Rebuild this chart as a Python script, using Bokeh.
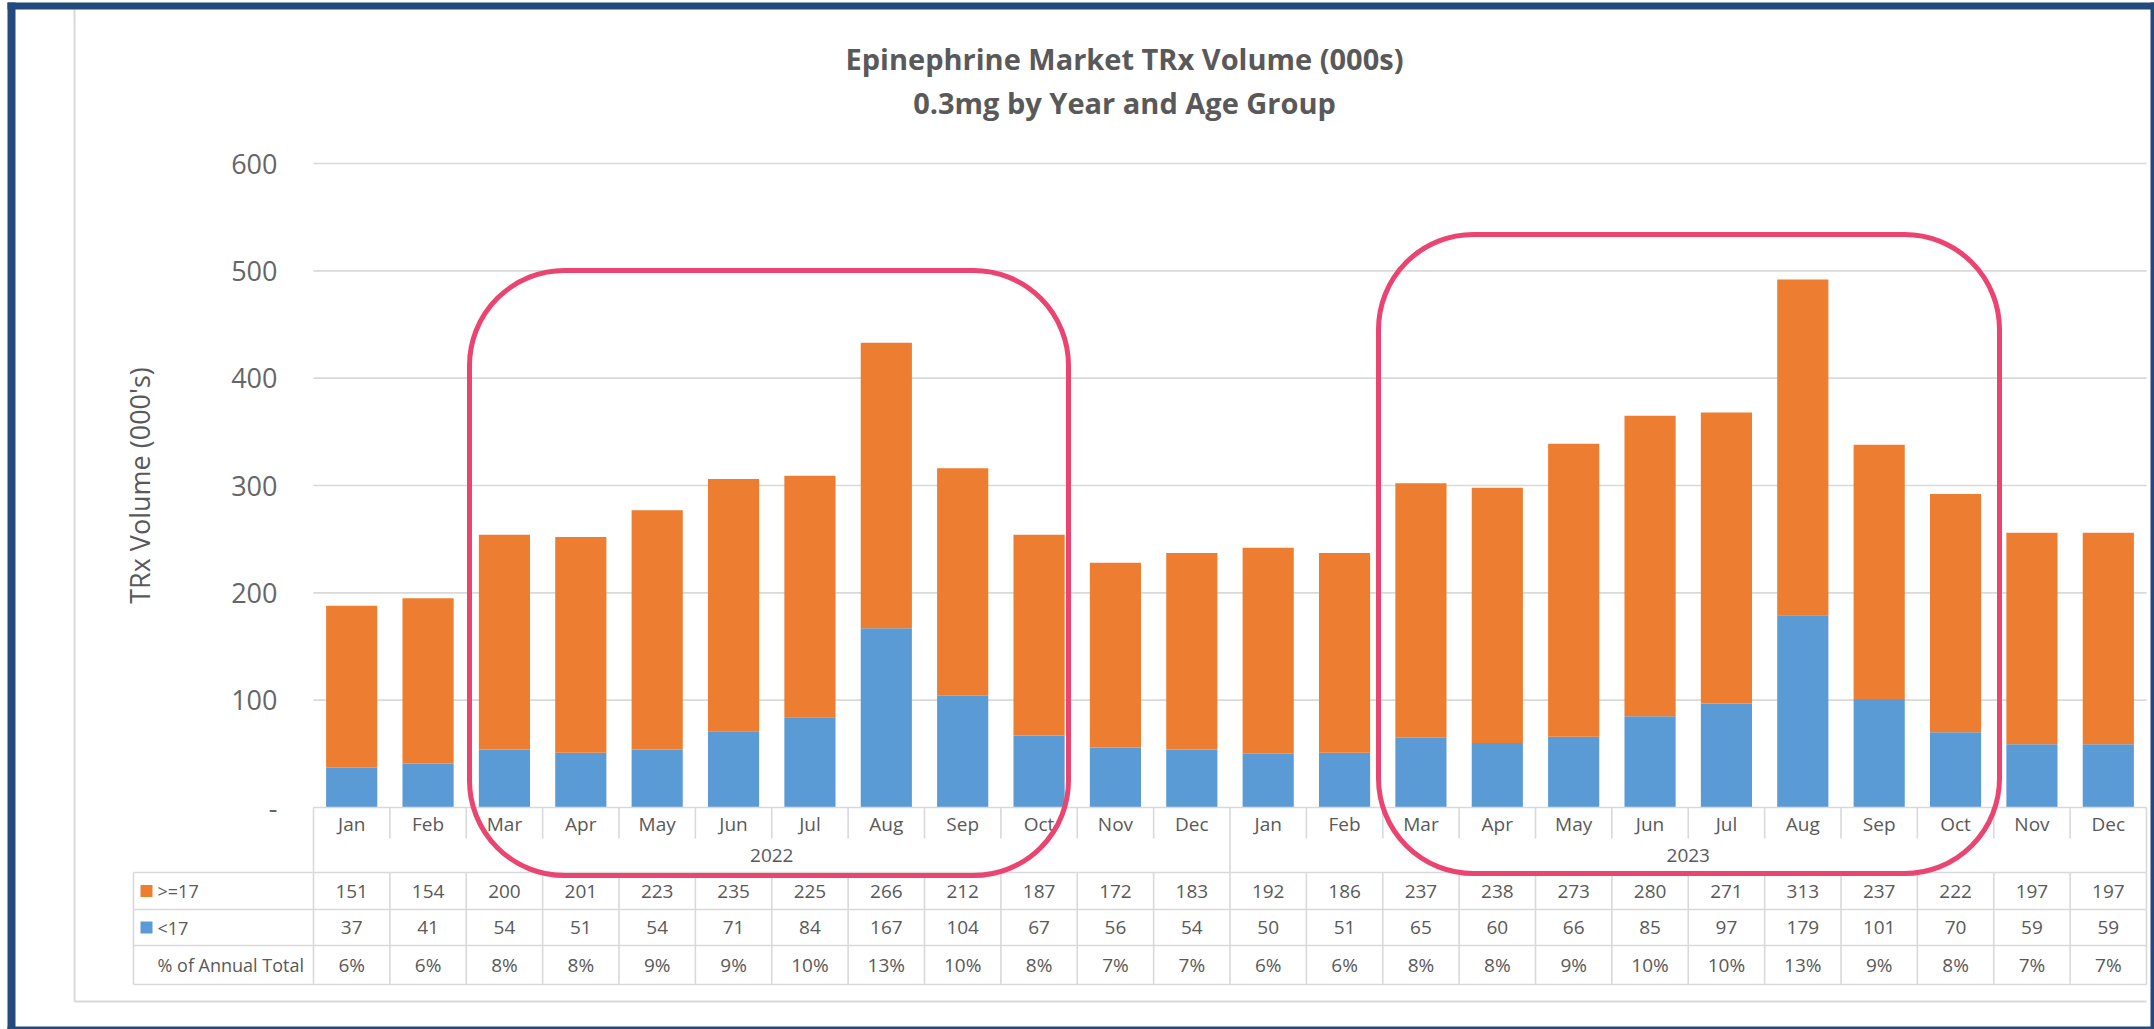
from bokeh.plotting import figure
from bokeh.models import Range1d, LinearAxis, FixedTicker, BoxAnnotation, ColumnDataSource
from bokeh.core.properties import value
from bokeh.embed import file_html
from bokeh.resources import INLINE

# ---------------- data ----------------
months = ["Jan", "Feb", "Mar", "Apr", "May", "Jun", "Jul", "Aug", "Sep", "Oct", "Nov", "Dec",
          "Jan", "Feb", "Mar", "Apr", "May", "Jun", "Jul", "Aug", "Sep", "Oct", "Nov", "Dec"]
years = ["2022", "2023"]
adult = [151, 154, 200, 201, 223, 235, 225, 266, 212, 187, 172, 183,
         192, 186, 237, 238, 273, 280, 271, 313, 237, 222, 197, 197]   # >=17
child = [37, 41, 54, 51, 54, 71, 84, 167, 104, 67, 56, 54,
         50, 51, 65, 60, 66, 85, 97, 179, 101, 70, 59, 59]             # <17
pct = ["6%", "6%", "8%", "8%", "9%", "9%", "10%", "13%", "10%", "8%", "7%", "7%",
       "6%", "6%", "8%", "8%", "9%", "10%", "10%", "13%", "9%", "8%", "7%", "7%"]
series_names = [">=17", "<17"]
row_label_pct = "% of Annual Total"
y_ticks = [0, 100, 200, 300, 400, 500, 600]
title1 = "Epinephrine Market TRx Volume (000s)"
title2 = "0.3mg by Year and Age Group"
y_label = "TRx Volume (000's)"

ORANGE = "#ED7D31"
BLUE = "#5B9BD5"
GRID = "#D9D9D9"
TXT = "#595959"
PINK = "#EC4470"
NAVY = "#234A7D"
FONT = "Open Sans"

# ---------------- geometry (screen px) ----------------
W, H = 2154, 1029
PX_L, PX_R = 313, 2146
PX_Y0, PX_Y600 = 807, 163
n = len(months)
sx = (PX_R - PX_L) / n
sy = (PX_Y0 - PX_Y600) / 600.0


def X(px):
    return (px - PX_L) / sx


def Y(py):
    return (PX_Y0 - py) / sy


p = figure(width=W, height=H, output_backend="svg", toolbar_location=None,
           x_range=Range1d(X(0), X(W)), y_range=Range1d(Y(H), Y(0)),
           x_axis_type=None, y_axis_type=None, min_border=0,
           outline_line_color=None, background_fill_color="white",
           border_fill_color="white")

# inner chart-area frame
p.segment(x0=[X(74), X(74)], y0=[Y(9), Y(1001)], x1=[X(74), X(2146)], y1=[Y(1001), Y(1001)],
          line_color=GRID, line_width=2)

# gridlines
gt = y_ticks[1:]
p.segment(x0=[0] * len(gt), x1=[n] * len(gt), y0=gt, y1=gt, line_color=GRID, line_width=1.6)

# stacked bars
xs = [i + 0.5 for i in range(n)]
src = ColumnDataSource(dict(x=xs, child=child, adult=adult))
p.vbar_stack(["child", "adult"], x="x", width=0.67, color=[BLUE, ORANGE],
             line_color=None, source=src)

# y axis
yax = LinearAxis(fixed_location=0, bounds=(0, 600), ticker=FixedTicker(ticks=y_ticks),
                 major_label_overrides={0: "-"}, axis_label=y_label)
yax.axis_line_color = None
yax.major_tick_line_color = None
yax.minor_tick_line_color = None
yax.major_tick_out = 0
yax.major_tick_in = 0
yax.major_label_standoff = 36
yax.major_label_text_font = FONT
yax.major_label_text_font_size = "27px"
yax.major_label_text_color = "#666666"
yax.axis_label_standoff = 70
yax.axis_label_text_font = FONT
yax.axis_label_text_font_size = "27px"
yax.axis_label_text_font_style = "normal"
yax.axis_label_text_color = TXT
p.add_layout(yax, "left")

# ---------------- data table ----------------
T_TOP, T_MON, T_YEAR = 807, 838, 872
ROWS = [872, 909, 945, 984]
T_LEFT = 133

segs_x0, segs_y0, segs_x1, segs_y1 = [], [], [], []


def seg(a, b, c, d):
    segs_x0.append(a); segs_y0.append(b); segs_x1.append(c); segs_y1.append(d)


seg(0, Y(T_TOP), n, Y(T_TOP))
for i in range(0, n + 1):
    if i % 12 == 0:
        seg(i, Y(T_TOP), i, Y(T_YEAR))
    else:
        seg(i, Y(T_TOP), i, Y(T_MON))
    seg(i, Y(T_YEAR), i, Y(ROWS[-1]))
seg(X(T_LEFT), Y(T_YEAR), X(T_LEFT), Y(ROWS[-1]))
for r in ROWS:
    seg(X(T_LEFT), Y(r), n, Y(r))
p.segment(x0=segs_x0, y0=segs_y0, x1=segs_x1, y1=segs_y1, line_color=GRID, line_width=1.6)

# month + year labels
p.text(x=xs, y=[Y(823)] * n, text=months, text_font=value(FONT), text_font_size=value("19px"),
       text_color=TXT, text_align="center", text_baseline="middle")
p.text(x=[6, 18], y=[Y(855)] * 2, text=years, text_font=value(FONT), text_font_size=value("19px"),
       text_color=TXT, text_align="center", text_baseline="middle")

row_c = [(ROWS[k] + ROWS[k + 1]) / 2 for k in range(3)]
for k, vals in enumerate([adult, child, pct]):
    p.text(x=xs, y=[Y(row_c[k])] * n, text=[str(v) for v in vals], text_font=value(FONT),
           text_font_size=value("19px"), text_color=TXT, text_align="center", text_baseline="middle")

p.text(x=[X(157)] * 3, y=[Y(c) for c in row_c], text=series_names + [row_label_pct],
       text_font=value(FONT), text_font_size=value("18px"), text_color=TXT,
       text_align="left", text_baseline="middle")
p.quad(left=[X(140)] * 2, right=[X(152)] * 2,
       top=[Y(row_c[0] - 6), Y(row_c[1] - 6)], bottom=[Y(row_c[0] + 6), Y(row_c[1] + 6)],
       color=[ORANGE, BLUE], line_color=None)

# title
p.text(x=[X(1124)] * 2, y=[Y(58), Y(102)], text=[title1, title2], text_font=value(FONT),
       text_font_size=value("29px"), text_font_style="bold", text_color=TXT,
       text_align="center", text_baseline="middle")

# highlight boxes (Mar-Oct of each year)
for (l, r, t, b) in [(X(469), X(1068), Y(270), Y(875)), (X(1378), X(1999), Y(234), Y(873))]:
    p.add_layout(BoxAnnotation(left=l, right=r, top=t, bottom=b, fill_alpha=0,
                               line_color=PINK, line_alpha=1.0, line_width=5,
                               border_radius=95))

# outer navy border
p.quad(left=[X(7), X(7), X(2150), X(7)], right=[X(15), X(W), X(W), X(W)],
       top=[Y(2), Y(2), Y(2), Y(1026)], bottom=[Y(H), Y(9), Y(H), Y(H)],
       color=NAVY, line_color=None)

open("out.html", "w").write(file_html(p, INLINE))
